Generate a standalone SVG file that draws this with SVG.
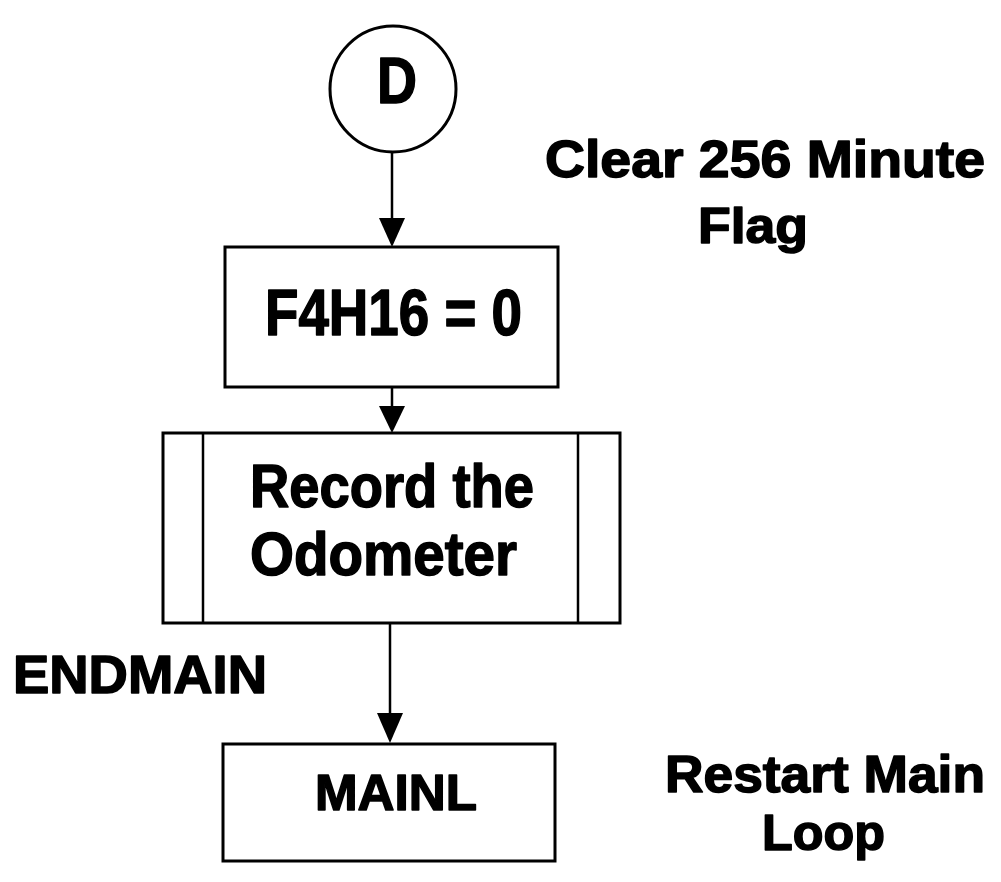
<svg xmlns="http://www.w3.org/2000/svg" width="1001" height="882" viewBox="0 0 1001 882">
<style>
.shape{fill:#fff;stroke:#000;stroke-width:3}
.line{stroke:#000;stroke-width:2.5;fill:none}
.head{fill:#000}
.t{font-family:"Liberation Sans",Arial,sans-serif;font-weight:bold;fill:#000;stroke:#000;stroke-width:1.5;stroke-linejoin:round}
</style>
<rect width="1001" height="882" fill="#fff"/>
<g id="connectors">
<line class="line" x1="392" y1="152" x2="392" y2="222"/>
<path class="head" d="M379,218 L405,218 L392,247 Z"/>
<line class="line" x1="392" y1="387" x2="392" y2="410"/>
<path class="head" d="M379,406 L405,406 L392,433 Z"/>
<line class="line" x1="390" y1="623" x2="390" y2="716"/>
<path class="head" d="M377,713 L403,713 L390,743 Z"/>
</g>
<g id="node-D">
<ellipse class="shape" cx="393" cy="89" rx="63" ry="63"/>
<text class="t" x="377" y="103" font-size="64" textLength="40" lengthAdjust="spacingAndGlyphs">D</text>
</g>
<g id="node-F4H16">
<rect class="shape" x="225" y="247" width="333" height="140"/>
<text class="t" x="265" y="335" font-size="65" textLength="257" lengthAdjust="spacingAndGlyphs">F4H16 = 0</text>
</g>
<g id="node-record">
<rect class="shape" x="163" y="433" width="457" height="190"/>
<line class="line" x1="203" y1="433" x2="203" y2="623"/>
<line class="line" x1="578" y1="433" x2="578" y2="623"/>
<text class="t" x="250" y="507" font-size="62" textLength="284" lengthAdjust="spacingAndGlyphs">Record the</text>
<text class="t" x="250" y="575" font-size="62" textLength="267" lengthAdjust="spacingAndGlyphs">Odometer</text>
</g>
<g id="node-MAINL">
<rect class="shape" x="223" y="744" width="332" height="117"/>
<text class="t" x="315" y="810" font-size="50" textLength="162" lengthAdjust="spacingAndGlyphs">MAINL</text>
</g>
<g id="label-clear">
<text class="t" x="545" y="177" font-size="52" textLength="440" lengthAdjust="spacingAndGlyphs">Clear 256 Minute</text>
<text class="t" x="698" y="243" font-size="50" textLength="110" lengthAdjust="spacingAndGlyphs">Flag</text>
</g>
<g id="label-endmain">
<text class="t" x="13" y="693" font-size="53" textLength="254" lengthAdjust="spacingAndGlyphs">ENDMAIN</text>
</g>
<g id="label-restart">
<text class="t" x="665" y="792" font-size="52" textLength="320" lengthAdjust="spacingAndGlyphs">Restart Main</text>
<text class="t" x="762" y="850" font-size="50" textLength="123" lengthAdjust="spacingAndGlyphs">Loop</text>
</g>
</svg>
